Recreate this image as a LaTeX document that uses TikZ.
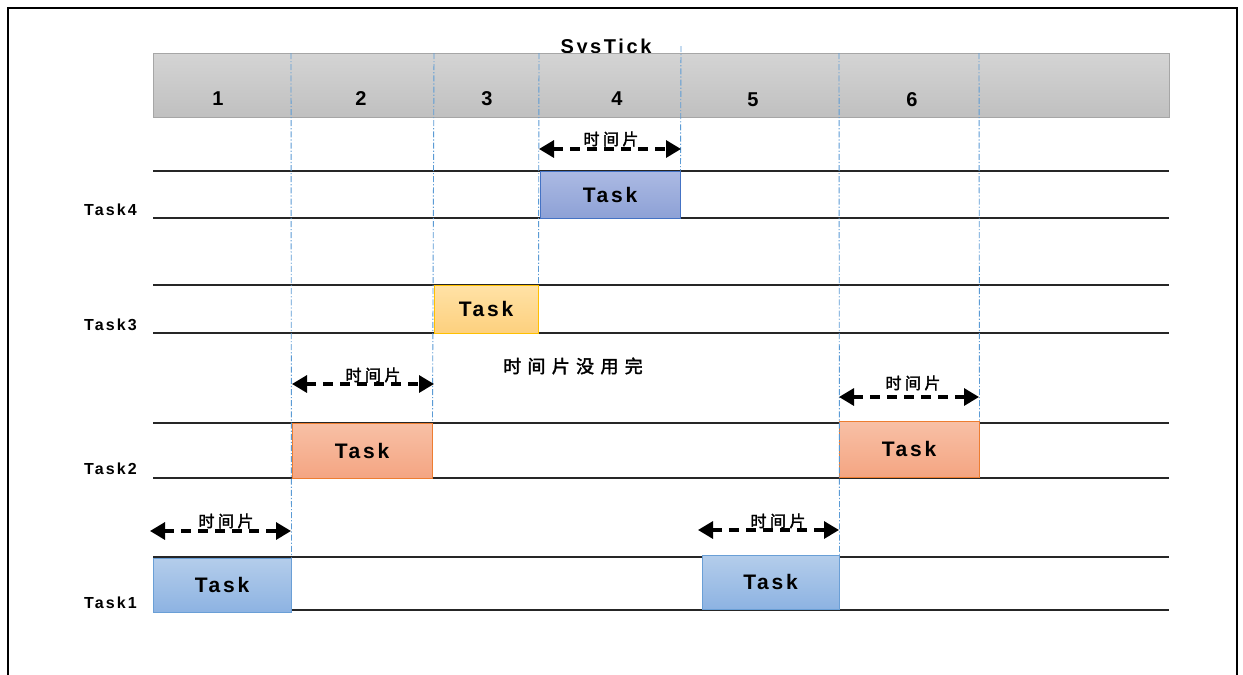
\documentclass[tikz,border=0pt]{standalone}
\usepackage{fontspec}
\setmainfont{Liberation Sans}
\newfontfamily\spacedsans[LetterSpace=13]{Liberation Sans}
\newfontfamily\cjkslice[LetterSpace=22,FakeBold=2]{Noto Sans CJK SC}
\newfontfamily\cjknote[LetterSpace=35,FakeBold=2]{Noto Sans CJK SC}
\usetikzlibrary{arrows.meta}

\definecolor{tickblue}{HTML}{5B9BD5}
\definecolor{barTop}{HTML}{D4D4D4}
\definecolor{barBot}{HTML}{C0C0C0}
\definecolor{barEdge}{HTML}{A6A6A6}
\definecolor{oneTop}{HTML}{B4CDEB}
\definecolor{oneBot}{HTML}{8DB3E2}
\definecolor{oneEdge}{HTML}{6A9FD6}
\definecolor{twoTop}{HTML}{F8C0A6}
\definecolor{twoBot}{HTML}{F4A582}
\definecolor{twoEdge}{HTML}{ED7D31}
\definecolor{threeTop}{HTML}{FFE2A6}
\definecolor{threeBot}{HTML}{FDD07E}
\definecolor{threeEdge}{HTML}{FFC000}
\definecolor{fourTop}{HTML}{ACBAE3}
\definecolor{fourBot}{HTML}{8DA1D6}
\definecolor{fourEdge}{HTML}{4472C4}

\tikzset{
  lane/.style={draw=black!85, line width=1.1pt},
  tickline/.style={draw=tickblue, line width=0.9pt,
    dash pattern=on 6pt off 2pt on 1.2pt off 2pt},
  taskbox/.style={line width=1pt, inner sep=0pt,
    font=\spacedsans\bfseries\fontsize{21}{21}\selectfont},
  box1/.style={taskbox, draw=oneEdge, top color=oneTop, bottom color=oneBot},
  box2/.style={taskbox, draw=twoEdge, top color=twoTop, bottom color=twoBot},
  box3/.style={taskbox, draw=threeEdge, top color=threeTop, bottom color=threeBot},
  box4/.style={taskbox, draw=fourEdge, top color=fourTop, bottom color=fourBot},
  slice/.style={line width=3.2pt, dash pattern=on 10pt off 7pt,
    {Triangle[length=15pt,width=17pt]}-{Triangle[length=15pt,width=17pt]}},
  slicelabel/.style={inner sep=0pt,
    font=\cjkslice\fontsize{16}{16}\selectfont},
  tasklabel/.style={anchor=base west, inner sep=0pt,
    font=\spacedsans\bfseries\fontsize{16}{16}\selectfont},
  ticknum/.style={anchor=base, inner sep=0pt,
    font=\bfseries\fontsize{20}{20}\selectfont},
}

\begin{document}
\begin{tikzpicture}[x=1pt,y=-1pt]
\useasboundingbox (0,0) rectangle (1243,675);
\clip (0,0) rectangle (1243,675);
\fill[white] (0,0) rectangle (1243,675);

% outer frame (bottom edge lies below the page)
\draw[line width=2pt] (8,700) -- (8,8) -- (1237,8) -- (1237,700);

% tick bar with its title behind it
\node[anchor=base, inner sep=0pt, font=\spacedsans\bfseries\fontsize{20}{20}\selectfont]
  (title) at (606,53) {SysTick};
\node[draw=barEdge, line width=1pt, top color=barTop, bottom color=barBot,
  minimum width=1016pt, minimum height=64pt, inner sep=0pt] (bar) at (661,85) {};

\node[ticknum] (n1) at (218,105) {1};
\node[ticknum] (n2) at (361,105) {2};
\node[ticknum] (n3) at (487,105) {3};
\node[ticknum] (n4) at (617,105) {4};
\node[ticknum] (n5) at (753,106) {5};
\node[ticknum] (n6) at (912,106) {6};

% lanes
\foreach \y in {171,218,285,333,423,478,557,610}
  \draw[lane] (153,\y) -- (1169,\y);

% task labels
\node[tasklabel] (l4) at (84,215) {Task4};
\node[tasklabel] (l3) at (84,330) {Task3};
\node[tasklabel] (l2) at (84,474) {Task2};
\node[tasklabel] (l1) at (84,608) {Task1};

% task boxes
\node[box1, minimum width=138pt, minimum height=54pt] (t1a) at (222,585) {Task};
\node[box1, minimum width=137pt, minimum height=54pt] (t1b) at (770.5,582) {Task};
\node[box2, minimum width=140pt, minimum height=55pt] (t2a) at (362,450.5) {Task};
\node[box2, minimum width=140pt, minimum height=56pt] (t2b) at (909,449) {Task};
\node[box3, minimum width=104pt, minimum height=48pt] (t3) at (486,309) {Task};
\node[box4, minimum width=140pt, minimum height=47pt] (t4) at (610,194.5) {Task};

% tick boundaries
\coordinate (v1) at (291,53);
\coordinate (v2) at (434,53);
\coordinate (v3) at (539,53);
\coordinate (v4) at (681,46);
\coordinate (v5) at (839,53);
\coordinate (v6) at (979,53);
\draw[tickline] (v1) -- (t1a.north east);
\draw[tickline] (v2) -- (t2a.north east);
\draw[tickline] (v3) -- (t3.north east);
\draw[tickline] (v4) -- (t4.north east);
\draw[tickline] (v5) -- (t1b.north east);
\draw[tickline] (v6) -- (t2b.north east);

% time slices
\coordinate (a1) at (539,149); \coordinate (a2) at (681,149);
\coordinate (b1) at (292,384); \coordinate (b2) at (434,384);
\coordinate (c1) at (839,397); \coordinate (c2) at (979,397);
\coordinate (d1) at (150,531); \coordinate (d2) at (291,531);
\coordinate (e1) at (698,530); \coordinate (e2) at (839,530);
\draw[slice] (a1) -- (a2);
\draw[slice] (b1) -- (b2);
\draw[slice] (c1) -- (c2);
\draw[slice] (d1) -- (d2);
\draw[slice] (e1) -- (e2);

\node[slicelabel] (sa) at (611,139) {时间片};
\node[slicelabel] (sb) at (373,375) {时间片};
\node[slicelabel] (sc) at (913,383) {时间片};
\node[slicelabel] (sd) at (226,521) {时间片};
\node[slicelabel] (se) at (778,521) {时间片};

\node[inner sep=0pt, font=\cjknote\fontsize{18}{18}\selectfont]
  (note) at (573,366) {时间片没用完};
\end{tikzpicture}
\end{document}
